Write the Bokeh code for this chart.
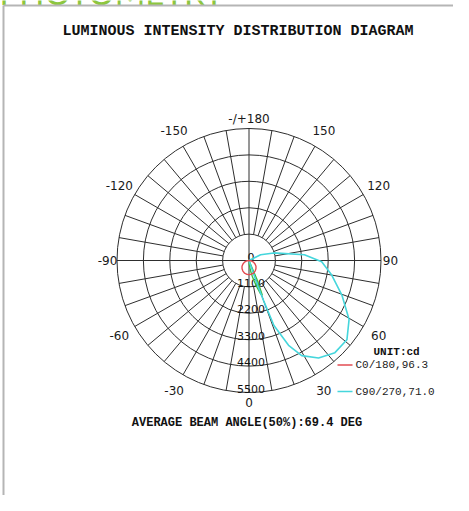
import numpy as np
from bokeh.plotting import figure
from bokeh.models import Range1d
from bokeh.core.properties import value
from bokeh.embed import file_html
from bokeh.resources import INLINE

# ---------------- data ----------------
ring_values = [1100, 2200, 3300, 4400, 5500]
ring_labels = ["0", "1100", "2200", "3300", "4400", "5500"]
angle_ticks = [0, 30, 60, 90, 120, 150, 180, -150, -120, -90, -60, -30]
angle_labels = ["0", "30", "60", "90", "120", "150", "-/+180", "-150", "-120", "-90", "-60", "-30"]

# C0/180 plane (gamma in degrees from nadir, intensity in cd)
c0_gamma = [-90, -80, -70, -60, -50, -40, -30, -20, -10, 0, 10, 20, 30, 40, 50, 60, 70, 80, 90]
c0_cd = [0, 100, 200, 290, 380, 450, 510, 555, 580, 590, 580, 555, 510, 450, 380, 290, 200, 100, 0]

# C90/270 plane
c90_gamma = [0, 17, 19, 20, 21, 25, 29, 35.5, 43, 51, 59.5, 69.6, 80, 89, 96, 107, 116, 125, 180]
c90_cd = [0, 0, 1000, 1800, 2900, 3900, 4530, 4990, 5250, 5250, 4840, 4130, 3500, 3030, 2320, 1080, 540, 0, 0]

# extra (green) plane
cx_gamma = [0, 4, 8, 12, 16, 19, 21, 23, 26]
cx_cd = [0, 150, 400, 700, 1100, 1450, 1550, 900, 0]

header_text = "PHOTOMETRY"
title_text = "LUMINOUS INTENSITY DISTRIBUTION DIAGRAM"
beam_text = "AVERAGE BEAM ANGLE(50%):69.4 DEG"
unit_text = "UNIT:cd"
legend_names = ["C0/180,96.3", "C90/270,71.0"]
legend_colors = ["#e24b52", "#45d6dc"]
green_color = "#3cba3c"

# ---------------- layout (pixels of the picture) ----------------
W, H = 453, 495
CX, CY = 248.5, 260.0          # polar centre
K = 132.0 / 5500.0             # pixels per cd


def px(X, Y):
    return (X - CX) / K, (CY - Y) / K


def polar(g_deg, cd):
    g = np.radians(np.asarray(g_deg, dtype=float))
    r = np.asarray(cd, dtype=float)
    return r * np.sin(g), -r * np.cos(g)


x0, y1 = px(0, 0)
x1, y0 = px(W, H)

p = figure(width=W, height=H, output_backend="svg", toolbar_location=None,
           x_range=Range1d(x0, x1), y_range=Range1d(y0, y1),
           min_border=0, outline_line_color=None)
p.axis.visible = False
p.grid.visible = False
p.background_fill_color = "white"
p.border_fill_color = "white"

# green header, cut by the top edge (as in the source sheet)
hx, hy = px(-1, -8.5)
p.text(x=[hx], y=[hy], text=[header_text], text_font=value("Lato"),
       text_font_size="33px", text_align="left", text_baseline="alphabetic",
       text_color="#8dc63f")

# frame lines of the sheet
fx0, fy0 = px(3, 5)
fx1, fy1 = px(W, H)
p.segment(x0=[fx0, fx0], y0=[fy0, fy0], x1=[fx0, fx1], y1=[fy1, fy0],
          line_color="#b5b5b5", line_width=2)

grid_color = "#2e2e2e"
Rmax = ring_values[-1]
# rings
p.circle(x=[0] * len(ring_values), y=[0] * len(ring_values), radius=ring_values,
         fill_color=None, line_color=grid_color, line_width=1)
# spokes every 10 degrees
sx0, sy0, sx1, sy1 = [], [], [], []
for a in range(0, 360, 10):
    ar = np.radians(a)
    inner = 0 if a % 90 == 0 else ring_values[0]
    sx0.append(inner * np.sin(ar)); sy0.append(-inner * np.cos(ar))
    sx1.append(Rmax * np.sin(ar)); sy1.append(-Rmax * np.cos(ar))
p.segment(x0=sx0, y0=sy0, x1=sx1, y1=sy1, line_color=grid_color, line_width=1)

# angle labels
lx, ly = [], []
for a in angle_ticks:
    ar = np.radians(a)
    R = (141.5 + 9.5 * abs(np.sin(2 * ar))) / K
    lx.append(R * np.sin(ar)); ly.append(-R * np.cos(ar))
p.text(x=lx, y=ly, text=angle_labels, text_font=value("DejaVu Sans"),
       text_font_size="12px", text_align="center", text_baseline="middle",
       text_color="#1a1a1a")

# ring labels
rv = [0] + ring_values
p.text(x=[0] * len(rv), y=[-v for v in rv], text=ring_labels,
       text_font=value("DejaVu Sans"), text_font_size="11px",
       text_align="center", text_baseline="middle", x_offset=2, y_offset=-4,
       text_color="#111111")

# curves
gx, gy = polar(cx_gamma, cx_cd)
p.line(gx, gy, line_color=green_color, line_width=1.3)
cx_, cy_ = polar(c90_gamma, c90_cd)
p.line(cx_, cy_, line_color=legend_colors[1], line_width=1.6)
rx, ry = polar(c0_gamma, c0_cd)
p.line(rx, ry, line_color=legend_colors[0], line_width=1.4)

# titles
tx, ty = px(237.5, 31)
p.text(x=[tx], y=[ty], text=[title_text], text_font=value("Liberation Mono"),
       text_font_style="bold", text_font_size="15px", text_align="center",
       text_baseline="middle", text_color="#111")
bx, by = px(246.5, 422)
p.text(x=[bx], y=[by], text=[beam_text], text_font=value("Liberation Mono"),
       text_font_style="bold", text_font_size="12px", text_align="center",
       text_baseline="middle", text_color="#111")

# legend
ux, uy = px(373, 351)
p.text(x=[ux], y=[uy], text=[unit_text], text_font=value("Liberation Mono"),
       text_font_style="bold", text_font_size="11px", text_align="left",
       text_baseline="middle", text_color="#111")
ly_px = [364.5, 391]
for i, name in enumerate(legend_names):
    a0x, a0y = px(337, ly_px[i])
    a1x, _ = px(352, ly_px[i])
    p.segment(x0=[a0x], y0=[a0y], x1=[a1x], y1=[a0y], line_color=legend_colors[i], line_width=1.4)
    nx, ny = px(355, ly_px[i])
    p.text(x=[nx], y=[ny], text=[name], text_font=value("Liberation Mono"),
           text_font_size="11px", text_align="left", text_baseline="middle",
           text_color="#222")

open("out.html", "w").write(file_html(p, INLINE))
